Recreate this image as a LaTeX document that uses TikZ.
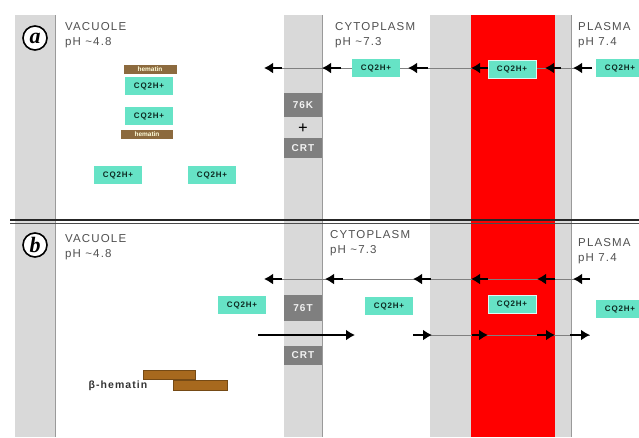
\documentclass[tikz,border=0pt]{standalone}
\usepackage{fontspec}
\setmainfont{Liberation Serif}
\setsansfont{Liberation Sans}
\newfontfamily\zonefont[LetterSpace=10]{Liberation Sans}
\usetikzlibrary{arrows.meta,positioning}
\definecolor{strip}{HTML}{D9D9D9}
\definecolor{stripedge}{HTML}{9A9A9A}
\definecolor{wall}{HTML}{FF0000}
\definecolor{drug}{HTML}{66E3C6}
\definecolor{drugink}{HTML}{0E2A22}
\definecolor{heme}{HTML}{8C6A3E}
\definecolor{hemebar}{HTML}{A7691E}
\definecolor{pump}{HTML}{7F7F7F}
\definecolor{zoneink}{HTML}{505050}
\tikzset{
  zonelabel/.style={
    anchor=north west, align=left, inner sep=0pt,
    font=\zonefont\fontsize{11.5}{15.5}\selectfont, text=zoneink
  },
  drugbox/.style={
    fill=drug, minimum width=48pt, minimum height=18pt, inner sep=0pt,
    font=\zonefont\bfseries\fontsize{8}{8}\selectfont, text=drugink
  },
  hemetag/.style={
    fill=heme, minimum width=53pt, minimum height=9pt, inner sep=0pt,
    font=\sffamily\bfseries\fontsize{6.5}{7}\selectfont, text=white!85!yellow
  },
  hemebarbox/.style={
    fill=hemebar, draw=hemebar!70!black, line width=0.3pt, inner sep=0pt
  },
  pumpbox/.style={
    fill=pump, minimum width=38pt, inner sep=0pt,
    font=\zonefont\bfseries\fontsize{10}{10}\selectfont, text=white!90!gray
  },
  panelbadge/.style={
    circle, draw=black, line width=1.6pt, fill=white, inner sep=0pt,
    minimum size=24pt, font=\bfseries\itshape\fontsize{22}{22}\selectfont
  },
  flowarrow/.style={-{Latex[length=9pt,width=11pt]}, line width=2.8pt},
  guide/.style={draw=gray, line width=0.5pt}
}

\begin{document}
\begin{tikzpicture}[x=1pt,y=-1pt]
  \useasboundingbox (0,0) rectangle (639,437);
  % membranes and compartments
  \fill[strip] (15,15) rectangle (55,437);
  \fill[strip] (284,15) rectangle (322,437);
  \fill[strip] (430,15) rectangle (571,437);
  \fill[wall] (471,15) rectangle (555,437);
  \foreach \xe in {55,322,571}
    \draw[stripedge, line width=0.8pt] (\xe,15) -- (\xe,437);

  % divider between the two panels
  \draw[black!85, line width=1.8pt] (10,220) -- (639,220);
  \draw[black!70, line width=1.1pt] (10,223.5) -- (639,223.5);

  % thin guides behind the boxes
  \coordinate (guideAs) at (282,68);
  \coordinate (guideAe) at (592,68);
  \coordinate (guideBs) at (282,279);
  \coordinate (guideBe) at (590,279);
  \coordinate (guideCs) at (413,335);
  \coordinate (guideCe) at (590,335);
  \draw[guide] (guideAs) -- (guideAe);
  \draw[guide] (guideBs) -- (guideBe);
  \draw[guide] (guideCs) -- (guideCe);

  % ---------- panel a ----------
  \node[panelbadge] (badgeA) at (35,38) {a};
  \node[zonelabel] (vacA) at (65,22) {VACUOLE\\pH \textasciitilde 4.8};
  \node[zonelabel] (cytA) at (335,22) {CYTOPLASM\\pH \textasciitilde 7.3};
  \node[zonelabel] (plaA) at (578,22) {PLASMA\\pH 7.4};

  \node[hemetag] (hemA1) at (150,69) {hematin};
  \node[drugbox] (cqA1) at (149,86) {CQ2H+};
  \node[drugbox] (cqA2) at (149,116) {CQ2H+};
  \node[hemetag, minimum width=52pt] (hemA2) at (147,134) {hematin};
  \node[drugbox] (cqA3) at (118,175) {CQ2H+};
  \node[drugbox] (cqA4) at (212,175) {CQ2H+};
  \node[drugbox] (cqA5) at (376,68) {CQ2H+};
  \node[drugbox, draw=white!80!drug, line width=0.8pt] (cqA6) at (512,69) {CQ2H+};
  \node[drugbox] (cqA7) at (620,68) {CQ2H+};

  \node[pumpbox, minimum height=24pt] (pfA) at (303,105) {76K};
  \node[font=\bfseries\fontsize{17}{17}\selectfont] (plusA) at (303,129) {+};
  \node[pumpbox, minimum height=20pt] (crtA) at (303,148) {CRT};

  \foreach \xt/\xh [count=\i] in {282/264,341/322,428/408,488/471,561/545,592/573} {
    \coordinate (inAt\i) at (\xt,68);
    \coordinate (inAh\i) at (\xh,68);
    \draw[flowarrow] (inAt\i) -- (inAh\i);
  }

  % ---------- panel b ----------
  \node[panelbadge] (badgeB) at (35,245) {b};
  \node[zonelabel] (vacB) at (65,234) {VACUOLE\\pH \textasciitilde 4.8};
  \node[zonelabel] (cytB) at (330,230) {CYTOPLASM\\pH \textasciitilde 7.3};
  \node[zonelabel] (plaB) at (578,238) {PLASMA\\pH 7.4};

  \node[drugbox] (cqB1) at (242,305) {CQ2H+};
  \node[drugbox] (cqB2) at (389,306) {CQ2H+};
  \node[drugbox, draw=white!80!drug, line width=0.8pt] (cqB3) at (512,304) {CQ2H+};
  \node[drugbox] (cqB4) at (620,309) {CQ2H+};

  \node[pumpbox, minimum height=26pt] (pfB) at (303,308) {76T};
  \node[pumpbox, minimum height=19pt] (crtB) at (303,355.5) {CRT};

  \node[hemebarbox, minimum width=52pt, minimum height=9pt] (barB1) at (169,374.5) {};
  \node[hemebarbox, minimum width=54pt, minimum height=10pt] (barB2) at (200,385) {};
  \node[font=\zonefont\bfseries\fontsize{10.5}{11}\selectfont, text=black!80] (betaB) at (118,386) {β-hematin};

  \foreach \xt/\xh [count=\i] in {282/264,343/325,431/413,488/471,555/537,590/573} {
    \coordinate (inBt\i) at (\xt,279);
    \coordinate (inBh\i) at (\xh,279);
    \draw[flowarrow] (inBt\i) -- (inBh\i);
  }

  \coordinate (outBt0) at (258,335);
  \coordinate (outBh0) at (355,335);
  \draw[flowarrow, line width=2.2pt] (outBt0) -- (outBh0);
  \foreach \xt/\xh [count=\i] in {413/432,472/488,537/555,570/590} {
    \coordinate (outBt\i) at (\xt,335);
    \coordinate (outBh\i) at (\xh,335);
    \draw[flowarrow] (outBt\i) -- (outBh\i);
  }
\end{tikzpicture}
\end{document}
